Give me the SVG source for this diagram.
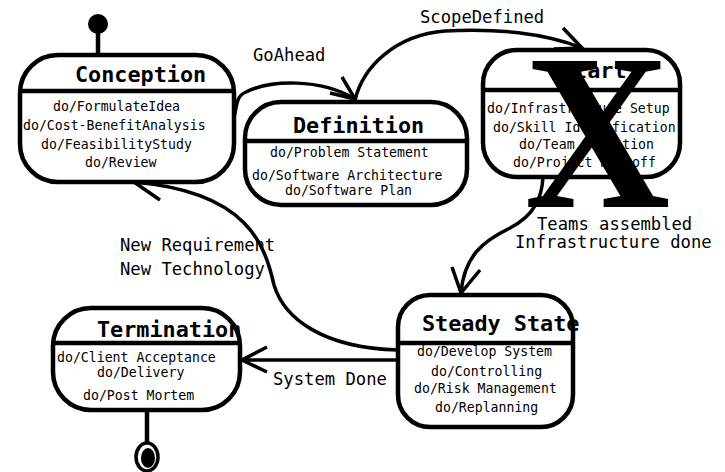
<svg xmlns="http://www.w3.org/2000/svg" width="725" height="472" viewBox="0 0 725 472">
<style>
.box{fill:#fff;stroke:#000;stroke-width:4.5}
.div{stroke:#000;stroke-width:4.5}
.title{font-family:"DejaVu Sans Mono",monospace;font-weight:bold;font-size:21.8px;fill:#000}
.body{font-family:"DejaVu Sans Mono",monospace;font-size:13.2px;fill:#000}
.lbl{font-family:"DejaVu Sans Mono",monospace;font-size:17.2px;fill:#000}
.edge{fill:none;stroke:#000;stroke-width:3.5}
.head{fill:none;stroke:#000;stroke-width:3.5;stroke-linejoin:miter}
</style>
<rect width="725" height="472" fill="#fff"/>
<g id="connectors">
<path class="edge" d="M 234 118 C 237 105, 236 96, 246 92 C 270 80, 320 78, 355 99"/>
<polyline class="head" points="342,77 355,99 330,93"/>
<path class="edge" d="M 355 100 C 363 67, 395 35, 445 31 C 495 28, 545 33, 582 48"/>
<polyline class="head" points="563,28 582,48 554,49"/>
<path class="edge" d="M 543 177 C 542 197, 535 215, 510 228 C 485 240, 464 255, 461 293"/>
<polyline class="head" points="452,267 461,293 480,270"/>
<path class="edge" d="M 398 350 C 322 348, 284 318, 274 285 C 265 245, 248 192, 134 182"/>
<polyline class="head" points="162,173 134,182 160,200"/>
<path class="edge" d="M 398 360 L 242 360"/>
<polyline class="head" points="267,347 242,360 267,372"/>
<text class="lbl" x="253" y="61">GoAhead</text>
<text class="lbl" x="420" y="23">ScopeDefined</text>
<text class="lbl" x="537" y="230">Teams assembled</text>
<text class="lbl" x="515" y="248">Infrastructure done</text>
<text class="lbl" x="120" y="251">New Requirement</text>
<text class="lbl" x="120" y="275">New Technology</text>
<text class="lbl" x="273" y="385">System Done</text>
</g>
<g id="initial">
<line x1="98" y1="32" x2="98" y2="55" stroke="#000" stroke-width="4.5"/>
<circle cx="98" cy="24" r="10" fill="#000"/>
</g>
<g id="conception">
<rect class="box" x="20" y="55" width="214" height="127" rx="38" ry="38"/>
<line class="div" x1="20" y1="91" x2="234" y2="91"/>
<text class="title" x="75" y="82">Conception</text>
<text class="body" x="53" y="111">do/FormulateIdea</text>
<text class="body" x="23" y="130">do/Cost-BenefitAnalysis</text>
<text class="body" x="41" y="149">do/FeasibilityStudy</text>
<text class="body" x="85" y="167">do/Review</text>
</g>
<g id="definition">
<rect class="box" x="245" y="102" width="222" height="103" rx="36" ry="36"/>
<line class="div" x1="245" y1="141" x2="467" y2="141"/>
<text class="title" x="293" y="133">Definition</text>
<text class="body" x="270" y="157">do/Problem Statement</text>
<text class="body" x="252" y="180">do/Software Architecture</text>
<text class="body" x="285" y="195">do/Software Plan</text>
</g>
<g id="start">
<rect class="box" x="483" y="50" width="197" height="127" rx="34" ry="34"/>
<line class="div" x1="483" y1="90" x2="680" y2="90"/>
<text class="title" x="561" y="78">Start</text>
<text class="body" x="487" y="113">do/Infrastructure Setup</text>
<text class="body" x="493" y="132">do/Skill Identification</text>
<text class="body" x="519" y="149">do/Team Formation</text>
<text class="body" x="513" y="167">do/Project Kickoff</text>
<text transform="translate(597.5,207) scale(0.91,1)" text-anchor="middle" font-family="'Liberation Serif',serif" font-weight="bold" font-size="222" fill="#000">X</text>
</g>
<g id="steady">
<rect class="box" x="398" y="295" width="175" height="132" rx="32" ry="32"/>
<line class="div" x1="398" y1="343" x2="573" y2="343"/>
<text class="title" x="422" y="331">Steady State</text>
<text class="body" x="417" y="356">do/Develop System</text>
<text class="body" x="431" y="376">do/Controlling</text>
<text class="body" x="414" y="393">do/Risk Management</text>
<text class="body" x="435" y="412">do/Replanning</text>
</g>
<g id="termination">
<rect class="box" x="53" y="308" width="187" height="102" rx="38" ry="38"/>
<line class="div" x1="53" y1="343" x2="240" y2="343"/>
<text class="title" x="97" y="337">Termination</text>
<text class="body" x="57" y="362">do/Client Acceptance</text>
<text class="body" x="97" y="377">do/Delivery</text>
<text class="body" x="83" y="400">do/Post Mortem</text>
</g>
<g id="final">
<line x1="147" y1="410" x2="147" y2="443" stroke="#000" stroke-width="4.5"/>
<ellipse cx="147" cy="457" rx="11" ry="14" fill="#fff" stroke="#000" stroke-width="3.5"/>
<ellipse cx="148" cy="458" rx="7" ry="10" fill="#000"/>
</g>
</svg>
